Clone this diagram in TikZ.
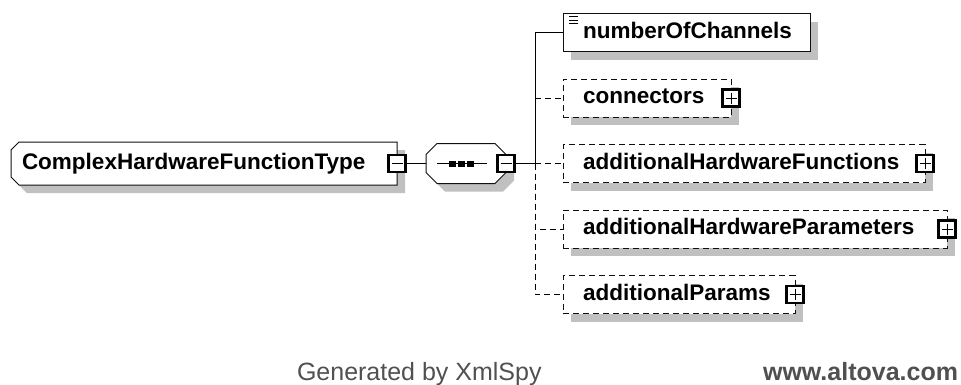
\documentclass[tikz,border=0pt]{standalone}
\usepackage{fontspec}
\setmainfont{Liberation Sans}
\usetikzlibrary{calc,backgrounds}
\definecolor{shadowgray}{HTML}{C0C0C0}
\definecolor{footgray}{HTML}{505050}
\definecolor{edgeblack}{HTML}{101010}

\begin{document}
\begin{tikzpicture}[x=1pt,y=-1pt,
  every node/.style={inner sep=0pt, outer sep=0pt},
  elname/.style={font=\fontsize{22.5}{26}\selectfont\bfseries,
    text height=16, text depth=5, align=left, anchor=west},
  child/.style={elname, draw=edgeblack, line width=1, fill=white,
    minimum height=38, inner xsep=20},
  dashed line/.style={dash pattern=on 6pt off 4pt},
  pm/.style={draw=black, line width=2.2, fill=white, minimum size=17},
  pmline/.style={draw=black, line width=0.9},
  conn/.style={draw=black, line width=1},
  foot/.style={font=\fontsize{25}{30}\selectfont, text=footgray},
]
\useasboundingbox (0,0) rectangle (961,384);

% complex type element and its sequence compositor
\node[elname, text width=364, inner xsep=11, minimum height=43]
  (m) at (11,163.5) {ComplexHardwareFunctionType};
\node[minimum width=80, minimum height=40] (s) at (466,163.5) {};

% child elements of the sequence
\node[child, text width=207] (noc) at (563,32.5) {numberOfChannels};
\node[child, dashed line, text width=128] (con) at (563,98) {connectors};
\node[child, dashed line, text width=322] (ahf) at (563,163.5) {additionalHardwareFunctions};
\node[child, dashed line, text width=344] (ahp) at (563,229) {additionalHardwareParameters};
\node[child, dashed line, text width=192] (ap) at (563,294.5) {additionalParams};

% collapse / expand buttons
\node[pm] (m-pm) at (m.east) {};
\node[pm] (s-pm) at (s.east) {};
\node[pm] (con-pm) at (con.east) {};
\node[pm] (ahf-pm) at (ahf.east) {};
\node[pm] (ahp-pm) at (ahp.east) {};
\node[pm] (ap-pm) at (ap.east) {};
\foreach \b in {m-pm,s-pm,con-pm,ahf-pm,ahp-pm,ap-pm}
  \draw[pmline] ($(\b.west)+(3,0)$) -- ($(\b.east)+(-3,0)$);
\foreach \b in {con-pm,ahf-pm,ahp-pm,ap-pm}
  \draw[pmline] ($(\b.north)+(0,3)$) -- ($(\b.south)+(0,-3)$);

% simple-content marker on numberOfChannels
\foreach \dy in {3.3,6.6,9.9}
  \draw[line width=0.9] ($(noc.north west)+(6,\dy)$) -- ++(9,0);

% sequence symbol
\draw[conn] ($(s.west)+(11,0)$) -- ($(s.east)+(-19,0)$);
\foreach \dx in {-13.5,-4.5,4.5}
  \fill ($(s.center)+(\dx,0)+(-3.5,-3)$) rectangle ++(7,6);

% connectors
\coordinate (j) at (535,163.5);
\draw[conn] (m-pm.east) -- (s.west);
\draw[conn] (s-pm.east) -- (j);
\draw[conn] (j) |- (noc.west);
\draw[conn, dashed line] (j) -- (ahf.west);
\draw[conn, dashed line] (j |- con.west) -- (con.west);
\draw[conn, dashed line] (j) |- (ahp.west);
\draw[conn, dashed line] (j) |- (ap.west);

% footer
\node[foot, anchor=base west] (gen) at (297,380) {Generated by XmlSpy};
\node[foot, font=\fontsize{25}{30}\selectfont\bfseries, anchor=base east]
  (url) at (958,380) {www.altova.com};

% shadows and outlines behind the nodes
\begin{pgfonlayer}{background}
  \fill[white] (0,0) rectangle (961,384);
  \foreach \n in {noc,con,ahf,ahp,ap}
    \fill[shadowgray] ($(\n.north west)+(8,8)$) rectangle ($(\n.south east)+(8,8)$);
  \fill[shadowgray]
    ($(m.north west)+(16,8)$) -- ($(m.north east)+(8,8)$) -- ($(m.south east)+(8,8)$)
    -- ($(m.south west)+(16,8)$) -- ($(m.south west)+(8,0)$) -- ($(m.north west)+(8,16)$) -- cycle;
  \fill[shadowgray]
    ($(s.north west)+(19,8)$) -- ($(s.north east)+(-3,8)$) -- ($(s.north east)+(8,19)$)
    -- ($(s.south east)+(8,-3)$) -- ($(s.south east)+(-3,8)$) -- ($(s.south west)+(19,8)$)
    -- ($(s.south west)+(8,-3)$) -- ($(s.north west)+(8,19)$) -- cycle;
  \filldraw[fill=white, draw=edgeblack, line width=1]
    ($(m.north west)+(8,0)$) -- (m.north east) -- (m.south east)
    -- ($(m.south west)+(8,0)$) -- ($(m.south west)+(0,-8)$) -- ($(m.north west)+(0,8)$) -- cycle;
  \filldraw[fill=white, draw=edgeblack, line width=1]
    ($(s.north west)+(11,0)$) -- ($(s.north east)+(-11,0)$) -- ($(s.north east)+(0,11)$)
    -- ($(s.south east)+(0,-11)$) -- ($(s.south east)+(-11,0)$) -- ($(s.south west)+(11,0)$)
    -- ($(s.south west)+(0,-11)$) -- ($(s.north west)+(0,11)$) -- cycle;
\end{pgfonlayer}
\end{tikzpicture}
\end{document}
